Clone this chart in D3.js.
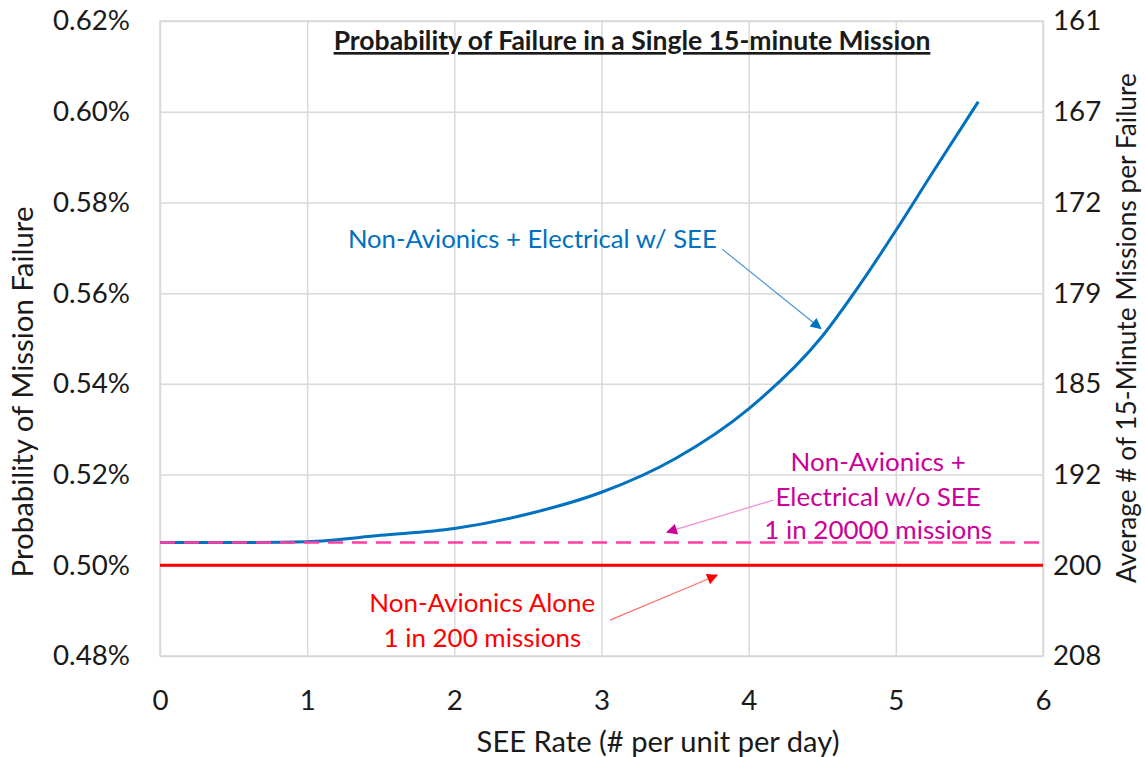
<!DOCTYPE html>
<html>
<head>
<meta charset="utf-8">
<script src="https://cdn.jsdelivr.net/npm/d3@7"></script>
<style>
  body { margin: 0; background: #fff; }
  text { font-family: Lato, "Open Sans", sans-serif; }
</style>
</head>
<body>
<svg id="chart" width="1145" height="757"></svg>
<script>
// SEE rate (# per unit per day) and probability of mission failure (%)
const seeRate = [0, 0.5, 1.0, 1.5, 2.0, 2.5, 3.0, 3.5, 4.0, 4.5, 4.75, 5.0, 5.25, 5.56]
const withSEE = [0.5050, 0.5050, 0.5052, 0.5066, 0.5081, 0.5113, 0.5161, 0.5235, 0.5345, 0.5505, 0.5616, 0.5738, 0.5866, 0.6022]
const withoutSEE = [0.5050, 0.5050]   // 1 in 20000 missions label
const aloneLine = [0.5000, 0.5000]    // 1 in 200 missions
const lineX = [0, 6]

const xTicks = [0, 1, 2, 3, 4, 5, 6]
const yTicks = [0.48, 0.50, 0.52, 0.54, 0.56, 0.58, 0.60, 0.62]
const rightLabels = ['208', '200', '192', '185', '179', '172', '167', '161']

const svg = d3.select('#chart')
const pLeft = 160, pRight = 1043, pTop = 21, pBottom = 656

const x = d3.scaleLinear().domain([0, 6]).range([pLeft, pRight])
const y = d3.scaleLinear().domain([0.48, 0.62]).range([pBottom, pTop])

// scale a text's font so that it takes the given width
function fit(sel, node, width) {
  const fs = +sel.attr('font-size')
  sel.attr('font-size', fs * width / node.getComputedTextLength())
  return sel
}

// gridlines
svg.append('g')
  .attr('transform', `translate(0,${pBottom})`)
  .call(d3.axisBottom(x).tickValues(xTicks).tickSize(-(pBottom - pTop)).tickFormat(''))
  .call(g => g.select('.domain').remove())
  .selectAll('line').attr('stroke', '#d9d9d9').attr('stroke-width', 1.5)
svg.append('g')
  .attr('transform', `translate(${pLeft},0)`)
  .call(d3.axisLeft(y).tickValues(yTicks).tickSize(-(pRight - pLeft)).tickFormat(''))
  .call(g => g.select('.domain').remove())
  .selectAll('line').attr('stroke', '#d9d9d9').attr('stroke-width', 1.5)

svg.append('rect')
  .attr('x', pLeft).attr('y', pTop)
  .attr('width', pRight - pLeft).attr('height', pBottom - pTop)
  .attr('fill', 'none').attr('stroke', '#d9d9d9').attr('stroke-width', 1.5)

// tick labels
const yl = svg.append('g')
  .attr('transform', `translate(${pLeft - 30},0)`)
  .call(d3.axisLeft(y).tickValues(yTicks).tickSize(0).tickPadding(0)
    .tickFormat(d => d.toFixed(2) + '%'))
  .call(g => g.select('.domain').remove())
const yr = svg.append('g')
  .attr('transform', `translate(${pRight + 10},0)`)
  .call(d3.axisRight(y).tickValues(yTicks).tickSize(0).tickPadding(0)
    .tickFormat((d, i) => rightLabels[i]))
  .call(g => g.select('.domain').remove())
const xl = svg.append('g')
  .attr('transform', `translate(0,${pBottom + 44})`)
  .call(d3.axisBottom(x).tickValues(xTicks).tickSize(0).tickPadding(0)
    .tickFormat(d3.format('d')))
  .call(g => g.select('.domain').remove())

const allTicks = svg.selectAll('.tick text')
  .attr('font-family', 'Lato').attr('font-size', 25).attr('fill', '#1a1a1a')
const tickSize = 25 * 77 / yl.select('.tick text').node().getComputedTextLength()
allTicks.attr('font-size', tickSize)
xl.selectAll('text').attr('dy', '0.35em')

// axis titles
const xt = svg.append('text')
  .attr('x', 658).attr('y', 752)
  .attr('text-anchor', 'middle').attr('font-size', 25).attr('fill', '#1a1a1a')
  .text('SEE Rate (# per unit per day)')
fit(xt, xt.node(), 363)

const ylt = svg.append('text')
  .attr('transform', 'translate(33,392) rotate(-90)')
  .attr('text-anchor', 'middle').attr('font-size', 25).attr('fill', '#1a1a1a')
  .text('Probability of Mission Failure')
fit(ylt, ylt.node(), 371)

const yrt = svg.append('text')
  .attr('transform', 'translate(1136,328) rotate(-90)')
  .attr('text-anchor', 'middle').attr('font-size', 25).attr('fill', '#1a1a1a')
  .text('Average # of 15-Minute Missions per Failure')
fit(yrt, yrt.node(), 510)

const title = svg.append('text')
  .attr('x', 632).attr('y', 50)
  .attr('text-anchor', 'middle').attr('font-size', 24).attr('font-weight', 'bold')
  .attr('text-decoration', 'underline').attr('fill', '#1a1a1a')
  .text('Probability of Failure in a Single 15-minute Mission')
fit(title, title.node(), 597)

// series lines
const line = d3.line().x(d => x(d[0])).y(d => y(d[1]))

svg.append('path')
  .datum(d3.zip(seeRate, withSEE))
  .attr('d', line.curve(d3.curveMonotoneX))
  .attr('fill', 'none').attr('stroke', '#0070c0').attr('stroke-width', 3)

svg.append('path')
  .datum(d3.zip(lineX, withoutSEE))
  .attr('d', d3.line().x(d => x(d[0])).y(d => y(d[1])))
  .attr('fill', 'none').attr('stroke', '#ff3fa4').attr('stroke-width', 2.5)
  .attr('stroke-dasharray', '15 9')

svg.append('path')
  .datum(d3.zip(lineX, aloneLine))
  .attr('d', d3.line().x(d => x(d[0])).y(d => y(d[1])))
  .attr('fill', 'none').attr('stroke', '#ff0000').attr('stroke-width', 3)

// annotations
const defs = svg.append('defs')
function marker(id, color) {
  defs.append('marker')
    .attr('id', id).attr('viewBox', '0 0 10 10')
    .attr('refX', 9).attr('refY', 5)
    .attr('markerUnits', 'userSpaceOnUse')
    .attr('markerWidth', 13).attr('markerHeight', 11)
    .attr('orient', 'auto')
    .append('path').attr('d', 'M0,0L10,5L0,10Z').attr('fill', color)
}
marker('arrBlue', '#0070c0')
marker('arrPink', '#cc0099')
marker('arrRed', '#ff0000')

function arrow(x1, y1, x2, y2, color, id) {
  svg.append('line')
    .attr('x1', x(x1)).attr('y1', y(y1))
    .attr('x2', x(x2)).attr('y2', y(y2))
    .attr('stroke', color).attr('stroke-width', 1.2)
    .attr('marker-end', `url(#${id})`)
}

const blue = svg.append('text')
  .attr('x', x(1.277)).attr('y', y(0.5700))
  .attr('font-size', 24).attr('fill', '#0070c0')
  .text('Non-Avionics + Electrical w/ SEE')
fit(blue, blue.node(), 369)
arrow(3.82, 0.5697, 4.49, 0.5522, '#4a96d6', 'arrBlue')

const pink = svg.append('text')
  .attr('text-anchor', 'middle').attr('font-size', 24).attr('fill', '#cc0099')
const pinkSpans = [['Non-Avionics +', 0.5228], ['Electrical w/o SEE', 0.5150], ['1 in 20000 missions', 0.5077]]
  .map(([t, v]) => pink.append('tspan').attr('x', x(4.88)).attr('y', y(v)).attr('dy', '0.35em').text(t))
fit(pink, pinkSpans[2].node(), 228)
arrow(4.17, 0.5144, 3.445, 0.5073, '#f08cd0', 'arrPink')

const red = svg.append('text')
  .attr('text-anchor', 'middle').attr('font-size', 24).attr('fill', '#ff0000')
const redSpans = [['Non-Avionics Alone', 0.4917], ['1 in 200 missions', 0.4840]]
  .map(([t, v]) => red.append('tspan').attr('x', x(2.19)).attr('y', y(v)).attr('dy', '0.35em').text(t))
fit(red, redSpans[0].node(), 226)
arrow(3.058, 0.4879, 3.785, 0.4978, '#ff7070', 'arrRed')
</script>
</body>
</html>
